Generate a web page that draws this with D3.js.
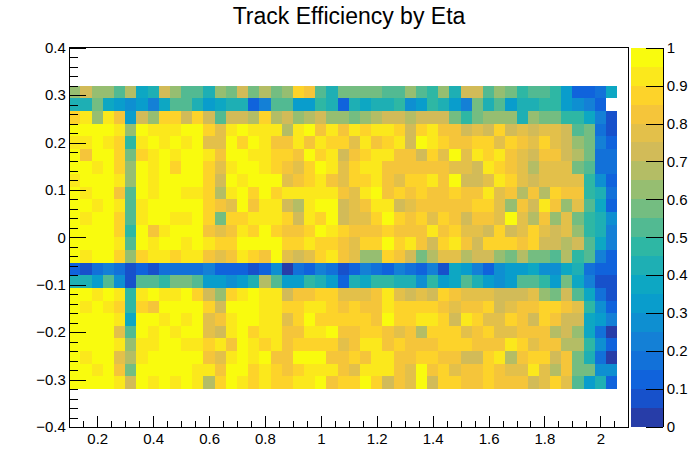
<!DOCTYPE html>
<html>
<head>
<meta charset="utf-8">
<script src="https://cdn.jsdelivr.net/npm/d3@7"></script>
<style>
  body { margin: 0; background: #fff; }
  text { font-family: "Liberation Sans", Arial, sans-serif; }
</style>
</head>
<body>
<div id="chart"></div>
<script>

    // histogram binning
    var xBinCount = 50, xLow = 0.1, xHigh = 2.1;
    var yBinCount = 24, yLow = -0.32, yHigh = 0.32;

    var xTicks = [0.2, 0.4, 0.6, 0.8, 1, 1.2, 1.4, 1.6, 1.8, 2];
    var yTicks = [-0.4, -0.3, -0.2, -0.1, 0, 0.1, 0.2, 0.3, 0.4];
    var zTicks = [0, 0.1, 0.2, 0.3, 0.4, 0.5, 0.6, 0.7, 0.8, 0.9, 1];

    // efficiency in %, one row per y bin, top row (y = 0.32) first, x bins 1..49 (bin 50 empty)
    var effRows = [
        [62,72,62,62,52,67,37,42,72,62,52,52,42,62,57,72,57, 67,57,62,87,82,52,42,57,57,57,57,52,52,62,52,47, 62,42,72,72,52,62,57,47,52,52,47,32,12,12,17,37],
        [42,42,57,37,32,27,32,22,37,52,52,42,32,37,42,42,12, 22,52,52,32,32,47,42,12,42,37,42,42,47,27,32,47, 42,32,22,57,42,52,32,42,42,47,47,32,27,22,12,0],
        [87,92,62,92,82,32,72,62,87,87,72,87,72,52,72,72,67, 87,67,72,62,67,72,62,62,57,62,67,72,72,67,72,72, 72,57,47,57,62,62,62,42,62,57,57,47,47,37,22,7],
        [97,97,97,97,92,62,97,92,92,92,97,97,87,77,92,97,92, 92,92,67,92,97,82,92,82,92,87,92,92,87,72,87,92, 82,82,72,77,72,87,72,77,72,77,77,72,52,57,17,7],
        [92,92,97,92,87,47,92,97,92,97,92,97,77,77,97,87,97, 92,82,82,92,82,92,87,87,77,92,82,87,92,72,97,92, 87,82,82,87,87,77,87,82,77,87,77,72,62,57,22,12],
        [97,82,97,97,87,57,87,92,97,92,97,97,92,82,97,97,92, 92,87,87,82,97,87,92,72,82,87,92,92,82,82,72,87, 77,97,77,92,87,92,82,77,72,82,82,72,67,57,17,17],
        [97,97,92,97,87,62,97,92,97,87,97,97,87,77,92,97,97, 92,87,82,77,87,97,92,77,87,92,92,82,82,82,82,82, 82,77,77,72,92,87,82,77,67,77,77,77,57,52,17,17],
        [92,97,97,97,92,62,97,92,97,97,97,97,87,72,97,92,97, 97,97,77,82,87,92,82,77,87,87,92,82,77,87,87,92, 82,97,72,72,77,92,87,77,72,77,77,77,77,47,27,12],
        [97,92,97,97,82,52,97,92,97,97,92,92,87,67,92,97,87, 97,87,92,92,92,92,92,82,77,92,97,82,87,82,87,82, 82,87,82,82,92,77,82,67,82,67,87,82,82,47,42,17],
        [97,97,92,97,92,52,92,97,97,97,97,97,87,82,77,97,82, 92,92,72,67,92,97,97,72,77,82,92,92,72,77,82,82, 82,82,82,87,87,77,62,82,72,92,82,62,77,52,37,12],
        [97,92,97,97,87,52,92,97,97,92,92,97,87,57,87,87,92, 92,92,87,72,92,87,97,72,77,77,87,97,87,82,87,77, 87,82,72,82,82,77,97,77,67,82,62,77,57,47,42,27],
        [97,97,97,97,87,47,97,82,92,97,97,97,82,77,82,92,87, 97,87,82,82,87,97,92,87,82,82,82,87,82,82,82,92, 82,87,77,77,72,87,72,77,87,77,72,77,62,47,42,22],
        [97,97,97,97,92,52,97,92,97,97,92,97,92,87,87,97,97, 97,97,87,87,92,87,87,82,77,87,87,97,87,92,82,72, 87,92,82,72,87,87,87,82,87,72,72,67,72,52,37,22],
        [97,92,97,97,87,62,87,92,92,87,92,92,82,77,82,92,87, 82,97,77,72,77,87,92,82,77,62,62,87,82,72,57,67, 77,77,67,72,72,62,57,67,57,57,52,67,47,52,22,12],
        [12,7,17,22,17,7,12,7,17,17,17,17,22,12,12,12,7, 12,27,2,17,12,22,17,7,12,22,17,12,22,17,12,22, 7,37,32,22,12,27,32,32,37,27,27,37,42,17,12,12],
        [42,42,32,52,27,7,52,52,47,57,57,52,32,32,27,32,42, 67,52,32,32,47,42,32,12,42,37,47,47,42,42,27,47, 32,37,52,42,32,27,32,52,52,47,32,57,37,22,7,7],
        [97,97,92,97,92,47,92,97,92,92,97,87,72,62,87,92,97, 92,92,72,82,82,87,87,77,77,77,82,92,77,72,77,72, 87,82,77,77,77,72,72,72,77,62,57,72,52,37,17,7],
        [97,92,97,92,87,47,87,82,97,97,97,97,87,72,97,97,97, 92,92,87,87,92,92,87,82,87,82,82,92,87,87,87,87, 82,77,82,82,87,72,77,82,82,87,87,82,77,47,27,12],
        [97,97,97,97,92,37,97,97,92,97,92,97,77,82,92,97,97, 92,92,77,87,97,87,87,87,87,87,82,97,87,87,92,92, 87,72,92,87,77,77,87,82,72,87,82,72,72,37,32,22],
        [97,97,97,97,77,52,97,92,97,92,97,97,77,72,92,97,87, 92,92,82,82,92,92,97,82,82,87,87,82,77,82,67,87, 87,87,77,82,87,77,77,82,82,82,67,72,62,37,17,2],
        [97,97,97,97,92,62,92,92,97,97,92,92,87,92,82,97,92, 87,92,82,87,87,87,87,77,82,92,92,82,87,82,82,82, 87,87,87,82,82,82,92,87,77,82,82,67,67,47,27,12],
        [97,92,97,97,77,67,92,97,97,97,97,97,82,77,92,97,92, 97,82,82,97,97,97,82,82,87,82,92,92,82,82,87,87, 82,82,72,72,87,92,67,82,87,87,72,82,57,42,17,2],
        [97,97,92,97,82,57,97,97,97,97,97,92,92,82,97,97,87, 92,87,82,87,92,92,92,82,77,92,92,92,82,77,97,82, 87,77,82,82,87,82,77,77,92,77,67,82,57,57,27,27],
        [97,97,97,97,92,72,97,92,97,92,97,92,67,87,97,92,87, 92,87,87,92,92,97,82,87,87,97,87,72,82,77,97,72, 87,87,82,82,87,82,82,82,72,77,87,77,52,32,42,12]
    ];

    var width = 698;
    var height = 475;
    var frame = { left: 69.3, right: 628.3, top: 47.7, bottom: 427 };
    var pal = { left: 630.7, right: 663.3 };

    var x = d3.scaleLinear().domain([0.1, 2.1]).range([frame.left, frame.right]);
    var y = d3.scaleLinear().domain([-0.4, 0.4]).range([frame.bottom, frame.top]);
    var z = d3.scaleLinear().domain([0, 1]).range([frame.bottom - 0.3, frame.top]);

    // ROOT kBird palette, 20 contours
    var birdStops = [0, 0.125, 0.25, 0.375, 0.5, 0.625, 0.75, 0.875, 1];
    var birdColors = ['#352a87', '#0f5cdd', '#1481d6', '#06a4ca', '#2eb7a4', '#87bf77', '#d1bb59', '#fec832', '#f9fb0e'];
    var bird = d3.scaleLinear().domain(birdStops).range(birdColors).interpolate(d3.interpolateRgb);
    var nContours = 20;

    function bandColor(b) {
        var idx = Math.floor((b + 0.99) * 255 / nContours);
        return bird(idx / 254);
    }
    function cellColor(v) {
        var b = Math.max(0, Math.min(nContours - 1, Math.floor(v * nContours)));
        return bandColor(b);
    }

    var dx = (xHigh - xLow) / xBinCount;
    var dy = (yHigh - yLow) / yBinCount;

    var cells = [];
    effRows.forEach(function(row, r) {
        var j = yBinCount - 1 - r;
        row.forEach(function(p, i) {
            if (p > 0) cells.push({ x0: xLow + i * dx, y0: yLow + j * dy, v: p / 100 });
        });
    });

    var svg = d3.select('#chart').append('svg')
        .attr('width', width)
        .attr('height', height)
        .style('display', 'block');

    svg.append('rect').attr('width', width).attr('height', height).attr('fill', '#fff');

    svg.append('g').selectAll('rect')
        .data(cells)
        .enter()
        .append('rect')
        .attr('x', function(d) { return x(d.x0); })
        .attr('y', function(d) { return y(d.y0 + dy); })
        .attr('width', function(d) { return x(d.x0 + dx) - x(d.x0); })
        .attr('height', function(d) { return y(d.y0) - y(d.y0 + dy); })
        .attr('fill', function(d) { return cellColor(d.v); })
        .attr('shape-rendering', 'crispEdges');

    // frame
    svg.append('rect')
        .attr('x', frame.left).attr('y', frame.top)
        .attr('width', frame.right - frame.left)
        .attr('height', frame.bottom - frame.top)
        .attr('fill', 'none').attr('stroke', '#000')
        .attr('shape-rendering', 'crispEdges');

    function styleAxis(g) {
        g.attr('font-size', 15).attr('font-family', '"Liberation Sans", Arial, sans-serif');
        g.select('.domain').remove();
        g.selectAll('line').attr('shape-rendering', 'crispEdges');
        g.selectAll('text').attr('fill', '#000');
    }

    var yFmt = function(d) { return Math.abs(d) < 1e-9 ? '0' : d3.format('.1f')(d); };
    var yMinor = d3.range(-20, 21).map(function(k) { return k * 0.02; });
    var xMinor = d3.range(0, 41).map(function(k) { return 0.1 + k * 0.05; });

    // y axis
    svg.append('g')
        .attr('transform', 'translate(' + frame.left + ',0)')
        .call(d3.axisLeft(y).tickValues(yMinor).tickSize(-8.4).tickFormat(function() { return ''; }))
        .call(styleAxis);
    svg.append('g')
        .attr('transform', 'translate(' + frame.left + ',0)')
        .call(d3.axisLeft(y).tickValues(yTicks).tickSize(-16.8).tickPadding(3.5).tickFormat(yFmt))
        .call(styleAxis);

    // x axis
    svg.append('g')
        .attr('transform', 'translate(0,' + frame.bottom + ')')
        .call(d3.axisBottom(x).tickValues(xMinor).tickSize(-5.7).tickFormat(function() { return ''; }))
        .call(styleAxis);
    svg.append('g')
        .attr('transform', 'translate(0,' + frame.bottom + ')')
        .call(d3.axisBottom(x).tickValues(xTicks).tickSize(-11.4).tickPadding(6).tickFormat(function(d) { return String(d); }))
        .call(styleAxis);

    // palette
    svg.append('g').selectAll('rect')
        .data(d3.range(nContours))
        .enter()
        .append('rect')
        .attr('x', pal.left)
        .attr('width', pal.right - pal.left)
        .attr('y', function(b) { return z((b + 1) / nContours); })
        .attr('height', function(b) { return z(b / nContours) - z((b + 1) / nContours); })
        .attr('fill', function(b) { return bandColor(b); })
        .attr('shape-rendering', 'crispEdges');

    svg.append('g')
        .attr('transform', 'translate(' + pal.right + ',0)')
        .call(d3.axisRight(z).tickValues(zTicks).tickSize(-17).tickSizeOuter(0).tickPadding(3.4).tickFormat(function(d) { return String(d); }))
        .call(function(g) {
            g.attr('font-size', 15).attr('font-family', '"Liberation Sans", Arial, sans-serif');
            g.selectAll('line, path').attr('shape-rendering', 'crispEdges');
            g.selectAll('text').attr('fill', '#000');
        });

    // title
    svg.append('text')
        .attr('x', 349)
        .attr('y', 24)
        .attr('text-anchor', 'middle')
        .attr('font-size', 23)
        .text('Track Efficiency by Eta');

</script>
</body>
</html>
